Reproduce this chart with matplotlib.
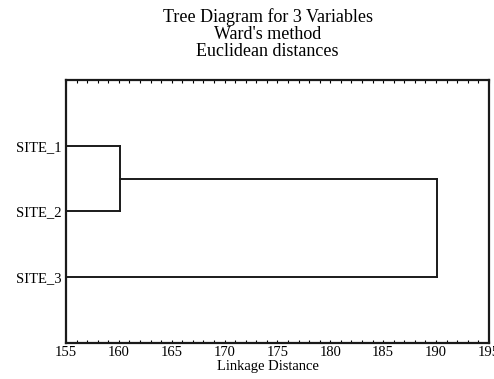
import matplotlib
matplotlib.use("Agg")
import matplotlib.pyplot as plt
from matplotlib.ticker import MultipleLocator

plt.rcParams['font.family'] = ['Liberation Serif', 'DejaVu Serif']

# cases and the two Ward merges (linkage distance)
sites = ['SITE_1', 'SITE_2', 'SITE_3']
merge_pairs = [(0, 1), (2, 3)]        # cluster 3 = SITE_1 + SITE_2
merge_heights = [160.1, 190.1]
x_min, x_max = 155, 195

fig = plt.figure(figsize=(4.94, 3.79), dpi=100)
ax = fig.add_axes([0.1336, 0.095, 0.856, 0.694])

# leaf rows 1..n, each new cluster sits midway between its children
pos = {i: i + 1 for i in range(len(sites))}
height = {i: x_min for i in range(len(sites))}
for k, ((a, b), h) in enumerate(zip(merge_pairs, merge_heights)):
    new = len(sites) + k
    for c in (a, b):
        ax.plot([height[c], h], [pos[c], pos[c]], color='#1a1a1a', lw=1.4)
    ax.plot([h, h], [pos[a], pos[b]], color='#1a1a1a', lw=1.4)
    pos[new] = (pos[a] + pos[b]) / 2
    height[new] = h

ax.set_xlim(x_min, x_max)
ax.set_ylim(len(sites) + 1, 0)
ax.set_yticks(range(1, len(sites) + 1))
ax.set_yticklabels(sites, fontsize=10.5)
ax.tick_params(axis='y', length=0, pad=3)

ax.xaxis.set_major_locator(MultipleLocator(5))
ax.xaxis.set_minor_locator(MultipleLocator(1))
ax.tick_params(axis='x', which='both', direction='in', top=True,
               length=2.5, width=0.8, labelsize=10.5, pad=2)

for s in ax.spines.values():
    s.set_linewidth(1.6)
    s.set_color('#1a1a1a')

ax.set_xlabel('Linkage Distance', fontsize=10.5)
ax.xaxis.set_label_coords(0.478, -0.065)
fig.text(0.542, 0.978, "Tree Diagram for 3 Variables\nWard's method\nEuclidean distances",
         ha='center', va='top', fontsize=13, linespacing=0.98)

fig.savefig('out.png', dpi=100)
